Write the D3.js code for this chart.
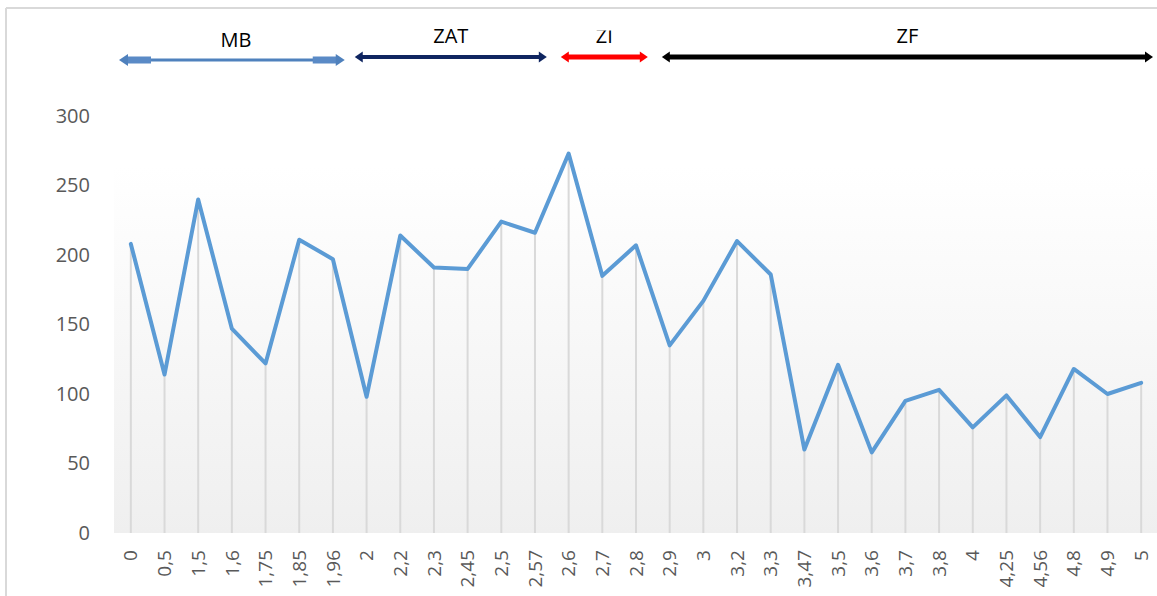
<!DOCTYPE html>
<html>
<head>
<meta charset="utf-8">
<script src="https://cdn.jsdelivr.net/npm/d3@7"></script>
<style>
body { margin: 0; background: #fff; }
svg { display: block; }
</style>
</head>
<body>
<div id="chart"></div>
<script>
// categories (depth labels) and values
var categories = ["0","0,5","1,5","1,6","1,75","1,85","1,96","2","2,2","2,3","2,45","2,5","2,57","2,6","2,7","2,8","2,9","3","3,2","3,3","3,47","3,5","3,6","3,7","3,8","4","4,25","4,56","4,8","4,9","5"];
var values = [208,114,240,147,122,211,197,98,214,191,190,224,216,273,185,207,135,167,210,186,60,121,58,95,103,76,99,69,118,100,108];
var yTicks = [0,50,100,150,200,250,300];

// zones drawn as arrows above the chart
var zoneNames = ["MB","ZAT","ZI","ZF"];
var zoneStart = ["0","2","2,6","2,9"];
var zoneEnd = ["1,96","2,57","2,8","5"];
var zoneColors = ["#4f81bd","#0f2560","#ff0000","#000000"];

function chart() {

var w = 1157, h = 596;
var mLeft = 114, mRight = 1158, mTop = 116, mBottom = 533;
var font = "'Open Sans', 'Noto Sans', sans-serif";

var svg = d3.select("#chart").append("svg")
  .attr("width", w)
  .attr("height", h)
  .style("font-family", font);

var defs = svg.append("defs");
var grad = defs.append("linearGradient")
  .attr("id", "bg")
  .attr("x1", 0).attr("y1", 0).attr("x2", 0).attr("y2", 1);
grad.append("stop").attr("offset", "0%").attr("stop-color", "#ffffff");
grad.append("stop").attr("offset", "100%").attr("stop-color", "#efefef");

defs.append("clipPath").attr("id", "ziclip")
  .append("rect").attr("x", 0).attr("y", 30.5).attr("width", w).attr("height", 40);

// outer border bits
svg.append("line").attr("x1", 6).attr("x2", w).attr("y1", 8).attr("y2", 8)
  .attr("stroke", "#d9d9d9").attr("stroke-width", 2);
svg.append("line").attr("x1", 6).attr("x2", 6).attr("y1", 8).attr("y2", h)
  .attr("stroke", "#d9d9d9").attr("stroke-width", 2);

// scales
var x = d3.scaleBand().domain(categories).range([mLeft, mRight]);
var y = d3.scaleLinear().domain([0, 300]).range([mBottom, mTop]);

// plot background
svg.append("rect")
  .attr("x", mLeft).attr("y", 167)
  .attr("width", mRight - mLeft).attr("height", mBottom - 167)
  .attr("fill", "url(#bg)");

var cx = function(d) { return x(d) + x.bandwidth() / 2; };

// drop lines
svg.append("g").selectAll("line")
  .data(categories)
  .join("line")
  .attr("x1", cx).attr("x2", cx)
  .attr("y1", function(d, i) { return y(values[i]); })
  .attr("y2", y(0))
  .attr("stroke", "#d9d9d9")
  .attr("stroke-width", 2);

// y axis labels
var yAxis = svg.append("g")
  .attr("transform", "translate(" + (mLeft - 24) + ",0)")
  .call(d3.axisLeft(y).tickValues(yTicks).tickSize(0).tickPadding(0));
yAxis.attr("font-family", font);
yAxis.select(".domain").remove();
yAxis.selectAll("text")
  .attr("fill", "#595959")
  .style("font-size", "20px");

// x axis labels
var xAxis = svg.append("g")
  .attr("transform", "translate(0," + (mBottom + 17) + ")")
  .call(d3.axisBottom(x).tickSize(0).tickPadding(0));
xAxis.attr("font-family", font);
xAxis.select(".domain").remove();
xAxis.selectAll("text")
  .attr("fill", "#595959")
  .style("font-size", "19px")
  .attr("transform", "rotate(-90)")
  .attr("text-anchor", "end")
  .attr("x", 0)
  .attr("y", 0)
  .attr("dy", "0.35em");

// line
var line = d3.line()
  .x(function(d, i) { return cx(categories[i]); })
  .y(function(d) { return y(d); });
svg.append("path")
  .datum(values)
  .attr("d", line)
  .attr("fill", "none")
  .attr("stroke", "#5b9bd5")
  .attr("stroke-width", 4)
  .attr("stroke-linejoin", "round")
  .attr("stroke-linecap", "round");

// zone arrows
var zones = svg.append("g");
zoneNames.forEach(function(name, i) {
  var x0 = x(zoneStart[i]) + (i > 1 ? 9 : 5);
  var x1 = x(zoneEnd[i]) + x.bandwidth() - 5;
  var ay = i === 0 ? 60 : 57;
  var col = zoneColors[i];
  var sw = i === 0 ? 3 : (i === 1 ? 4 : 5);
  var head = i === 0 ? 9 : 8;
  var half = i === 0 ? 6 : 5.5;
  zones.append("line")
    .attr("x1", x0 + head - 1).attr("x2", x1 - head + 1)
    .attr("y1", ay).attr("y2", ay)
    .attr("stroke", col).attr("stroke-width", sw);
  if (i === 0) {
    // thicker block ends of the first arrow
    zones.append("rect").attr("x", x0 + head - 1).attr("y", ay - 3.5)
      .attr("width", 24).attr("height", 7).attr("fill", "#5a8ac6");
    zones.append("rect").attr("x", x1 - head - 23).attr("y", ay - 3.5)
      .attr("width", 24).attr("height", 7).attr("fill", "#5a8ac6");
  }
  zones.append("path")
    .attr("d", "M" + x0 + "," + ay + "L" + (x0 + head) + "," + (ay - half) + "L" + (x0 + head) + "," + (ay + half) + "Z")
    .attr("fill", col);
  zones.append("path")
    .attr("d", "M" + x1 + "," + ay + "L" + (x1 - head) + "," + (ay - half) + "L" + (x1 - head) + "," + (ay + half) + "Z")
    .attr("fill", col);
  var t = zones.append("text")
    .attr("x", (x0 + x1) / 2 + (i === 0 ? 4 : 0))
    .attr("y", i === 0 ? 47 : 43)
    .attr("text-anchor", "middle")
    .attr("fill", "#000")
    .style("font-size", "20px")
    .text(name);
  if (name === "ZI") t.attr("clip-path", "url(#ziclip)");
});
}

chart();
</script>
</body>
</html>
